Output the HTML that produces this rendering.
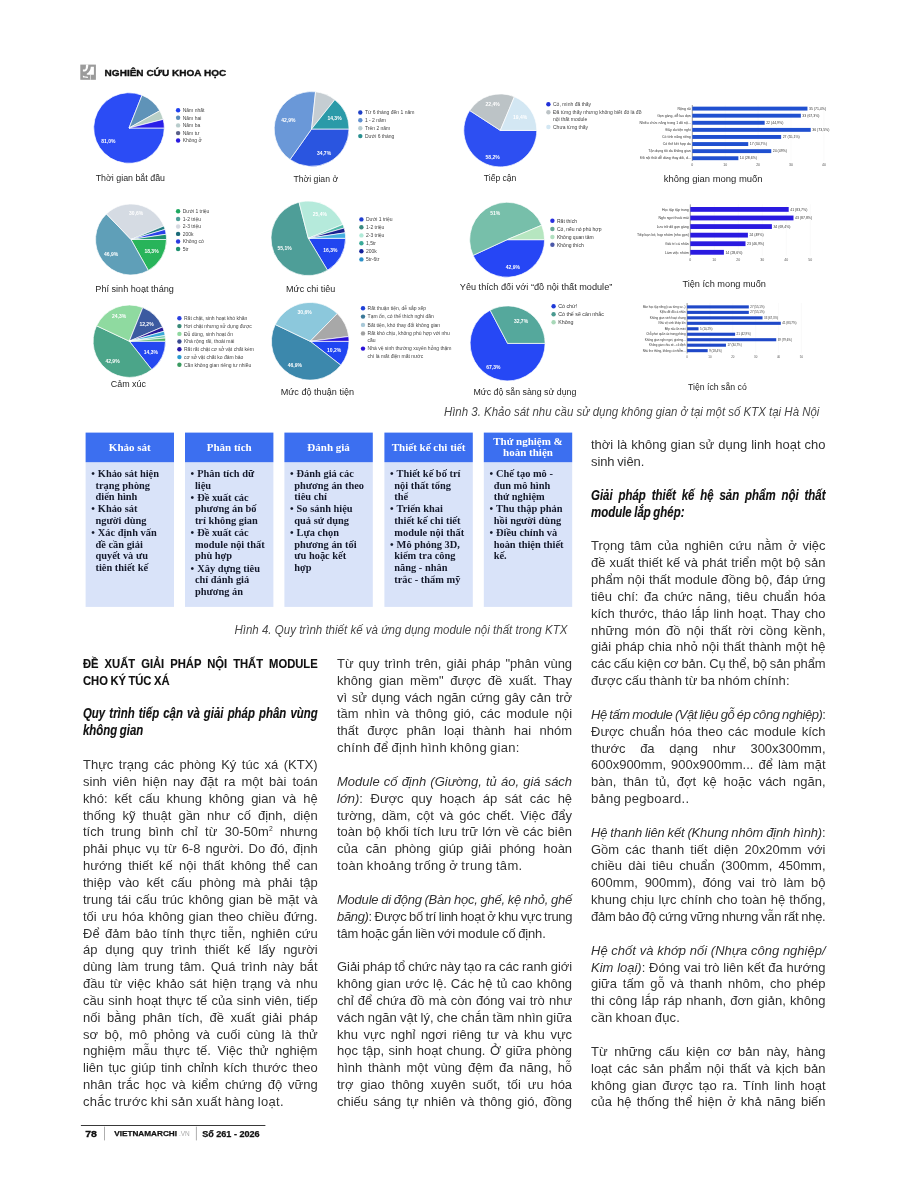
<!DOCTYPE html>
<html lang="vi"><head><meta charset="utf-8"><title>Nghiên cứu khoa học</title><style>
*{margin:0;padding:0;box-sizing:border-box}
html,body{width:918px;height:1200px;overflow:hidden;background:#fff}
#pg{position:relative;width:918px;height:1200px;background:#fff;overflow:hidden}
svg{position:absolute;left:0;top:0}
.ln{position:absolute;white-space:nowrap;font-family:"Liberation Sans",sans-serif;font-size:13.4px;line-height:17px;height:17px;color:#333;letter-spacing:0px;word-spacing:-0.8px;transform-origin:0 0}
.j{text-align:justify;text-align-last:justify}
.ln i{font-style:italic}
.ln sup{font-size:7px;vertical-align:5px;line-height:0}
.hd{font-weight:bold;color:#111;font-size:13.4px;-webkit-text-stroke:0.15px #111}
.hd b{font-weight:bold}
.sb b{font-weight:bold;font-style:italic;color:#111;font-size:14px;-webkit-text-stroke:0.15px #111}
</style></head>
<body><div id="pg">
<svg width="918" height="1200" viewBox="0 0 918 1200"><rect x="80.30" y="64.60" width="15.60" height="15.20" fill="#9b9b9b"/><path d="M 85.90 64.60 L 88.30 64.60 C 88.30 68.20 87.30 71.40 84.80 71.50 L 82.90 71.50 L 82.90 69.60 L 84.70 69.60 C 85.60 69.30 85.90 68.20 85.90 66.60 Z" fill="#fff"/><path d="M 90.80 66.85 L 93.90 66.85 L 93.90 74.70 L 87.50 74.70 C 86.50 74.70 86.30 73.80 87.30 73.30 C 89.30 72.30 90.60 70.10 90.80 66.85 Z" fill="#fff"/><path d="M 82.90 75.60 C 83.90 76.50 85.80 76.70 87.90 76.70 L 87.90 77.90 C 85.30 77.90 83.50 77.90 82.90 77.30 Z" fill="#fff"/><rect x="90.30" y="74.70" width="0.6" height="5.10" fill="#fff"/><text x="104.60" y="76.00" font-size="8.90" fill="#111" text-anchor="start" font-weight="bold" font-style="normal" font-family="'Liberation Sans', sans-serif" textLength="121.6" lengthAdjust="spacingAndGlyphs" stroke="#111" stroke-width="0.35">NGHIÊN CỨU KHOA HỌC</text><path d="M129.00 128.00L164.30 128.00A35.30 35.30 0 1 1 141.99 95.18Z" fill="#2b4cf5" stroke="#fff" stroke-width="0.70" stroke-linejoin="round"/><path d="M129.00 128.00L141.99 95.18A35.30 35.30 0 0 1 159.78 110.72Z" fill="#5f93b8" stroke="#fff" stroke-width="0.70" stroke-linejoin="round"/><path d="M129.00 128.00L159.78 110.72A35.30 35.30 0 0 1 163.24 119.40Z" fill="#b8cfc6" stroke="#fff" stroke-width="0.70" stroke-linejoin="round"/><path d="M129.00 128.00L163.24 119.40A35.30 35.30 0 0 1 164.30 128.00Z" fill="#2a1ee8" stroke="#fff" stroke-width="0.70" stroke-linejoin="round"/><text x="108.40" y="143.30" font-size="5.00" fill="#fff" text-anchor="middle" font-weight="bold" font-style="normal" font-family="'Liberation Sans', sans-serif">81,0%</text><circle cx="178.10" cy="110.20" r="2.20" fill="#2040f0"/><text x="182.70" y="112.00" font-size="5.00" fill="#444" text-anchor="start" font-weight="normal" font-style="normal" font-family="'Liberation Sans', sans-serif">Năm nhất</text><circle cx="178.10" cy="117.80" r="2.20" fill="#5a8cb8"/><text x="182.70" y="119.60" font-size="5.00" fill="#444" text-anchor="start" font-weight="normal" font-style="normal" font-family="'Liberation Sans', sans-serif">Năm hai</text><circle cx="178.10" cy="125.40" r="2.20" fill="#b8cccc"/><text x="182.70" y="127.20" font-size="5.00" fill="#444" text-anchor="start" font-weight="normal" font-style="normal" font-family="'Liberation Sans', sans-serif">Năm ba</text><circle cx="178.10" cy="133.10" r="2.20" fill="#5a6088"/><text x="182.70" y="134.90" font-size="5.00" fill="#444" text-anchor="start" font-weight="normal" font-style="normal" font-family="'Liberation Sans', sans-serif">Năm tư</text><circle cx="178.10" cy="140.50" r="2.20" fill="#2a1ae0"/><text x="182.70" y="142.30" font-size="5.00" fill="#444" text-anchor="start" font-weight="normal" font-style="normal" font-family="'Liberation Sans', sans-serif">Không ở</text><text x="95.70" y="181.20" font-size="8.30" fill="#262626" text-anchor="start" font-weight="normal" font-style="normal" font-family="'Liberation Sans', sans-serif" textLength="69.3" lengthAdjust="spacingAndGlyphs">Thời gian bắt đầu</text><path d="M311.60 129.00L349.00 129.00A37.40 37.40 0 0 1 290.04 159.56Z" fill="#2a55e0" stroke="#fff" stroke-width="0.70" stroke-linejoin="round"/><path d="M311.60 129.00L290.04 159.56A37.40 37.40 0 0 1 315.57 91.81Z" fill="#6a98d8" stroke="#fff" stroke-width="0.70" stroke-linejoin="round"/><path d="M311.60 129.00L315.57 91.81A37.40 37.40 0 0 1 334.83 99.69Z" fill="#c5cdd2" stroke="#fff" stroke-width="0.70" stroke-linejoin="round"/><path d="M311.60 129.00L334.83 99.69A37.40 37.40 0 0 1 349.00 129.00Z" fill="#2a9aa8" stroke="#fff" stroke-width="0.70" stroke-linejoin="round"/><text x="288.30" y="122.00" font-size="5.00" fill="#fff" text-anchor="middle" font-weight="bold" font-style="normal" font-family="'Liberation Sans', sans-serif">42,9%</text><text x="334.50" y="120.30" font-size="5.00" fill="#fff" text-anchor="middle" font-weight="bold" font-style="normal" font-family="'Liberation Sans', sans-serif">14,3%</text><text x="324.00" y="154.70" font-size="5.00" fill="#fff" text-anchor="middle" font-weight="bold" font-style="normal" font-family="'Liberation Sans', sans-serif">34,7%</text><circle cx="360.30" cy="112.50" r="2.20" fill="#1e40c8"/><text x="364.90" y="114.30" font-size="5.00" fill="#444" text-anchor="start" font-weight="normal" font-style="normal" font-family="'Liberation Sans', sans-serif">Từ 6 tháng đến 1 năm</text><circle cx="360.30" cy="120.30" r="2.20" fill="#6090d0"/><text x="364.90" y="122.10" font-size="5.00" fill="#444" text-anchor="start" font-weight="normal" font-style="normal" font-family="'Liberation Sans', sans-serif">1 - 2 năm</text><circle cx="360.30" cy="128.30" r="2.20" fill="#b8ccd0"/><text x="364.90" y="130.10" font-size="5.00" fill="#444" text-anchor="start" font-weight="normal" font-style="normal" font-family="'Liberation Sans', sans-serif">Trên 2 năm</text><circle cx="360.30" cy="136.10" r="2.20" fill="#2a9090"/><text x="364.90" y="137.90" font-size="5.00" fill="#444" text-anchor="start" font-weight="normal" font-style="normal" font-family="'Liberation Sans', sans-serif">Dưới 6 tháng</text><text x="293.50" y="181.80" font-size="8.30" fill="#262626" text-anchor="start" font-weight="normal" font-style="normal" font-family="'Liberation Sans', sans-serif" textLength="44.6" lengthAdjust="spacingAndGlyphs">Thời gian ở</text><path d="M500.30 130.40L536.80 130.40A36.50 36.50 0 1 1 469.69 110.52Z" fill="#2d4ff2" stroke="#fff" stroke-width="0.70" stroke-linejoin="round"/><path d="M500.30 130.40L469.69 110.52A36.50 36.50 0 0 1 514.39 96.73Z" fill="#bcc3c6" stroke="#fff" stroke-width="0.70" stroke-linejoin="round"/><path d="M500.30 130.40L514.39 96.73A36.50 36.50 0 0 1 536.80 130.40Z" fill="#d3e7f3" stroke="#fff" stroke-width="0.70" stroke-linejoin="round"/><text x="492.70" y="106.20" font-size="5.00" fill="#fff" text-anchor="middle" font-weight="bold" font-style="normal" font-family="'Liberation Sans', sans-serif">22,4%</text><text x="520.10" y="118.80" font-size="5.00" fill="#fff" text-anchor="middle" font-weight="bold" font-style="normal" font-family="'Liberation Sans', sans-serif">19,4%</text><text x="492.70" y="158.50" font-size="5.00" fill="#fff" text-anchor="middle" font-weight="bold" font-style="normal" font-family="'Liberation Sans', sans-serif">58,2%</text><circle cx="548.40" cy="104.20" r="2.20" fill="#2030d8"/><text x="553.00" y="106.00" font-size="5.00" fill="#444" text-anchor="start" font-weight="normal" font-style="normal" font-family="'Liberation Sans', sans-serif">Có, mình đã thấy</text><circle cx="548.40" cy="112.30" r="2.20" fill="#bcc3c6"/><text x="553.00" y="114.10" font-size="5.00" fill="#444" text-anchor="start" font-weight="normal" font-style="normal" font-family="'Liberation Sans', sans-serif">Đã từng thấy nhưng không biết đó là đồ</text><text x="553.00" y="120.90" font-size="5.00" fill="#444" text-anchor="start" font-weight="normal" font-style="normal" font-family="'Liberation Sans', sans-serif">nội thất module</text><circle cx="548.40" cy="127.00" r="2.20" fill="#d3e7f3"/><text x="553.00" y="128.80" font-size="5.00" fill="#444" text-anchor="start" font-weight="normal" font-style="normal" font-family="'Liberation Sans', sans-serif">Chưa từng thấy</text><text x="483.80" y="181.30" font-size="8.30" fill="#262626" text-anchor="start" font-weight="normal" font-style="normal" font-family="'Liberation Sans', sans-serif" textLength="32.6" lengthAdjust="spacingAndGlyphs">Tiếp cận</text><path d="M131.00 239.50L166.50 239.50A35.50 35.50 0 0 1 148.32 270.49Z" fill="#28b45a" stroke="#fff" stroke-width="0.70" stroke-linejoin="round"/><path d="M131.00 239.50L148.32 270.49A35.50 35.50 0 0 1 106.43 213.88Z" fill="#5f9fb8" stroke="#fff" stroke-width="0.70" stroke-linejoin="round"/><path d="M131.00 239.50L106.43 213.88A35.50 35.50 0 0 1 163.84 226.03Z" fill="#d5dbe3" stroke="#fff" stroke-width="0.70" stroke-linejoin="round"/><path d="M131.00 239.50L163.84 226.03A35.50 35.50 0 0 1 165.04 229.42Z" fill="#1f7a80" stroke="#fff" stroke-width="0.70" stroke-linejoin="round"/><path d="M131.00 239.50L165.04 229.42A35.50 35.50 0 0 1 166.11 234.25Z" fill="#2a40e8" stroke="#fff" stroke-width="0.70" stroke-linejoin="round"/><path d="M131.00 239.50L166.11 234.25A35.50 35.50 0 0 1 166.50 239.50Z" fill="#1e9070" stroke="#fff" stroke-width="0.70" stroke-linejoin="round"/><text x="136.20" y="215.40" font-size="5.00" fill="#fff" text-anchor="middle" font-weight="bold" font-style="normal" font-family="'Liberation Sans', sans-serif">30,6%</text><text x="111.10" y="255.80" font-size="5.00" fill="#fff" text-anchor="middle" font-weight="bold" font-style="normal" font-family="'Liberation Sans', sans-serif">46,9%</text><text x="151.50" y="253.20" font-size="5.00" fill="#fff" text-anchor="middle" font-weight="bold" font-style="normal" font-family="'Liberation Sans', sans-serif">18,3%</text><circle cx="178.10" cy="211.30" r="2.20" fill="#1ea860"/><text x="182.70" y="213.10" font-size="5.00" fill="#444" text-anchor="start" font-weight="normal" font-style="normal" font-family="'Liberation Sans', sans-serif">Dưới 1 triệu</text><circle cx="178.10" cy="219.00" r="2.20" fill="#4e9e98"/><text x="182.70" y="220.80" font-size="5.00" fill="#444" text-anchor="start" font-weight="normal" font-style="normal" font-family="'Liberation Sans', sans-serif">1-2 triệu</text><circle cx="178.10" cy="226.50" r="2.20" fill="#d5d8e0"/><text x="182.70" y="228.30" font-size="5.00" fill="#444" text-anchor="start" font-weight="normal" font-style="normal" font-family="'Liberation Sans', sans-serif">2-3 triệu</text><circle cx="178.10" cy="233.90" r="2.20" fill="#1a6a78"/><text x="182.70" y="235.70" font-size="5.00" fill="#444" text-anchor="start" font-weight="normal" font-style="normal" font-family="'Liberation Sans', sans-serif">200k</text><circle cx="178.10" cy="241.50" r="2.20" fill="#2a3ae0"/><text x="182.70" y="243.30" font-size="5.00" fill="#444" text-anchor="start" font-weight="normal" font-style="normal" font-family="'Liberation Sans', sans-serif">Không có</text><circle cx="178.10" cy="249.00" r="2.20" fill="#1e9070"/><text x="182.70" y="250.80" font-size="5.00" fill="#444" text-anchor="start" font-weight="normal" font-style="normal" font-family="'Liberation Sans', sans-serif">5tr</text><text x="95.30" y="292.00" font-size="8.30" fill="#262626" text-anchor="start" font-weight="normal" font-style="normal" font-family="'Liberation Sans', sans-serif" textLength="78.6" lengthAdjust="spacingAndGlyphs">Phí sinh hoạt tháng</text><path d="M308.30 238.30L345.60 238.30A37.30 37.30 0 0 1 327.51 270.27Z" fill="#2145f0" stroke="#fff" stroke-width="0.70" stroke-linejoin="round"/><path d="M308.30 238.30L327.51 270.27A37.30 37.30 0 1 1 299.02 202.17Z" fill="#4e9e98" stroke="#fff" stroke-width="0.70" stroke-linejoin="round"/><path d="M308.30 238.30L299.02 202.17A37.30 37.30 0 0 1 342.93 224.45Z" fill="#b5eadb" stroke="#fff" stroke-width="0.70" stroke-linejoin="round"/><path d="M308.30 238.30L342.93 224.45A37.30 37.30 0 0 1 344.16 228.02Z" fill="#50b8a8" stroke="#fff" stroke-width="0.70" stroke-linejoin="round"/><path d="M308.30 238.30L344.16 228.02A37.30 37.30 0 0 1 345.19 232.79Z" fill="#1a2090" stroke="#fff" stroke-width="0.70" stroke-linejoin="round"/><path d="M308.30 238.30L345.19 232.79A37.30 37.30 0 0 1 345.60 238.30Z" fill="#45aee0" stroke="#fff" stroke-width="0.70" stroke-linejoin="round"/><text x="319.90" y="215.90" font-size="5.00" fill="#fff" text-anchor="middle" font-weight="bold" font-style="normal" font-family="'Liberation Sans', sans-serif">25,4%</text><text x="284.60" y="249.50" font-size="5.00" fill="#fff" text-anchor="middle" font-weight="bold" font-style="normal" font-family="'Liberation Sans', sans-serif">55,1%</text><text x="330.30" y="252.10" font-size="5.00" fill="#fff" text-anchor="middle" font-weight="bold" font-style="normal" font-family="'Liberation Sans', sans-serif">16,3%</text><circle cx="361.40" cy="219.40" r="2.20" fill="#1e3ed0"/><text x="366.00" y="221.20" font-size="5.00" fill="#444" text-anchor="start" font-weight="normal" font-style="normal" font-family="'Liberation Sans', sans-serif">Dưới 1 triệu</text><circle cx="361.40" cy="227.30" r="2.20" fill="#3a8a80"/><text x="366.00" y="229.10" font-size="5.00" fill="#444" text-anchor="start" font-weight="normal" font-style="normal" font-family="'Liberation Sans', sans-serif">1-2 triệu</text><circle cx="361.40" cy="235.40" r="2.20" fill="#b0ead8"/><text x="366.00" y="237.20" font-size="5.00" fill="#444" text-anchor="start" font-weight="normal" font-style="normal" font-family="'Liberation Sans', sans-serif">2-3 triệu</text><circle cx="361.40" cy="243.30" r="2.20" fill="#3aaa98"/><text x="366.00" y="245.10" font-size="5.00" fill="#444" text-anchor="start" font-weight="normal" font-style="normal" font-family="'Liberation Sans', sans-serif">1,5tr</text><circle cx="361.40" cy="251.20" r="2.20" fill="#12209a"/><text x="366.00" y="253.00" font-size="5.00" fill="#444" text-anchor="start" font-weight="normal" font-style="normal" font-family="'Liberation Sans', sans-serif">200k</text><circle cx="361.40" cy="259.40" r="2.20" fill="#2a90c8"/><text x="366.00" y="261.20" font-size="5.00" fill="#444" text-anchor="start" font-weight="normal" font-style="normal" font-family="'Liberation Sans', sans-serif">5tr-6tr</text><text x="286.10" y="292.00" font-size="8.30" fill="#262626" text-anchor="start" font-weight="normal" font-style="normal" font-family="'Liberation Sans', sans-serif" textLength="49.1" lengthAdjust="spacingAndGlyphs">Mức chi tiêu</text><path d="M507.10 239.70L544.60 239.70A37.50 37.50 0 0 1 473.06 255.43Z" fill="#2646f5" stroke="#fff" stroke-width="0.70" stroke-linejoin="round"/><path d="M507.10 239.70L473.06 255.43A37.50 37.50 0 1 1 541.70 225.23Z" fill="#77bfaa" stroke="#fff" stroke-width="0.70" stroke-linejoin="round"/><path d="M507.10 239.70L541.70 225.23A37.50 37.50 0 0 1 544.60 239.70Z" fill="#b6e6c0" stroke="#fff" stroke-width="0.70" stroke-linejoin="round"/><text x="495.30" y="214.90" font-size="5.00" fill="#fff" text-anchor="middle" font-weight="bold" font-style="normal" font-family="'Liberation Sans', sans-serif">51%</text><text x="512.80" y="268.90" font-size="5.00" fill="#fff" text-anchor="middle" font-weight="bold" font-style="normal" font-family="'Liberation Sans', sans-serif">42,9%</text><circle cx="552.40" cy="220.70" r="2.20" fill="#2a30e0"/><text x="557.00" y="222.50" font-size="5.00" fill="#333" text-anchor="start" font-weight="normal" font-style="normal" font-family="'Liberation Sans', sans-serif">Rất thích</text><circle cx="552.40" cy="229.00" r="2.20" fill="#6aa898"/><text x="557.00" y="230.80" font-size="5.00" fill="#333" text-anchor="start" font-weight="normal" font-style="normal" font-family="'Liberation Sans', sans-serif">Có, nếu nó phù hợp</text><circle cx="552.40" cy="237.00" r="2.20" fill="#b0e0c0"/><text x="557.00" y="238.80" font-size="5.00" fill="#333" text-anchor="start" font-weight="normal" font-style="normal" font-family="'Liberation Sans', sans-serif">Không quan tâm</text><circle cx="552.40" cy="244.70" r="2.20" fill="#4a58a8"/><text x="557.00" y="246.50" font-size="5.00" fill="#333" text-anchor="start" font-weight="normal" font-style="normal" font-family="'Liberation Sans', sans-serif">Không thích</text><text x="459.80" y="290.20" font-size="8.30" fill="#262626" text-anchor="start" font-weight="normal" font-style="normal" font-family="'Liberation Sans', sans-serif" textLength="152.5" lengthAdjust="spacingAndGlyphs">Yêu thích đối với “đồ nội thất module”</text><path d="M129.30 341.20L165.50 341.20A36.20 36.20 0 0 1 151.74 369.61Z" fill="#2448f0" stroke="#fff" stroke-width="0.70" stroke-linejoin="round"/><path d="M129.30 341.20L151.74 369.61A36.20 36.20 0 0 1 96.55 325.79Z" fill="#4ba589" stroke="#fff" stroke-width="0.70" stroke-linejoin="round"/><path d="M129.30 341.20L96.55 325.79A36.20 36.20 0 0 1 142.80 307.61Z" fill="#8fdaa0" stroke="#fff" stroke-width="0.70" stroke-linejoin="round"/><path d="M129.30 341.20L142.80 307.61A36.20 36.20 0 0 1 162.57 326.94Z" fill="#3c5aa0" stroke="#fff" stroke-width="0.70" stroke-linejoin="round"/><path d="M129.30 341.20L162.57 326.94A36.20 36.20 0 0 1 164.10 331.22Z" fill="#2a1a9a" stroke="#fff" stroke-width="0.70" stroke-linejoin="round"/><path d="M129.30 341.20L164.10 331.22A36.20 36.20 0 0 1 165.05 335.54Z" fill="#38a8d8" stroke="#fff" stroke-width="0.70" stroke-linejoin="round"/><path d="M129.30 341.20L165.05 335.54A36.20 36.20 0 0 1 165.36 338.04Z" fill="#6cc8b0" stroke="#fff" stroke-width="0.70" stroke-linejoin="round"/><path d="M129.30 341.20L165.36 338.04A36.20 36.20 0 0 1 165.50 341.20Z" fill="#4cb060" stroke="#fff" stroke-width="0.70" stroke-linejoin="round"/><text x="119.10" y="318.20" font-size="5.00" fill="#fff" text-anchor="middle" font-weight="bold" font-style="normal" font-family="'Liberation Sans', sans-serif">24,3%</text><text x="146.50" y="326.00" font-size="5.00" fill="#fff" text-anchor="middle" font-weight="bold" font-style="normal" font-family="'Liberation Sans', sans-serif">12,2%</text><text x="150.90" y="353.90" font-size="5.00" fill="#fff" text-anchor="middle" font-weight="bold" font-style="normal" font-family="'Liberation Sans', sans-serif">14,3%</text><text x="112.50" y="363.10" font-size="5.00" fill="#fff" text-anchor="middle" font-weight="bold" font-style="normal" font-family="'Liberation Sans', sans-serif">42,9%</text><circle cx="179.40" cy="318.20" r="2.20" fill="#2a40e0"/><text x="184.00" y="320.00" font-size="5.00" fill="#444" text-anchor="start" font-weight="normal" font-style="normal" font-family="'Liberation Sans', sans-serif">Rất chật, sinh hoạt khó khăn</text><circle cx="179.40" cy="326.10" r="2.20" fill="#3a8a78"/><text x="184.00" y="327.90" font-size="5.00" fill="#444" text-anchor="start" font-weight="normal" font-style="normal" font-family="'Liberation Sans', sans-serif">Hơi chật nhưng sử dụng được</text><circle cx="179.40" cy="333.90" r="2.20" fill="#8fd8a0"/><text x="184.00" y="335.70" font-size="5.00" fill="#444" text-anchor="start" font-weight="normal" font-style="normal" font-family="'Liberation Sans', sans-serif">Đủ dùng, sinh hoạt ổn</text><circle cx="179.40" cy="341.50" r="2.20" fill="#3a4a90"/><text x="184.00" y="343.30" font-size="5.00" fill="#444" text-anchor="start" font-weight="normal" font-style="normal" font-family="'Liberation Sans', sans-serif">Khá rộng rãi, thoải mái</text><circle cx="179.40" cy="349.20" r="2.20" fill="#2a1aa8"/><text x="184.00" y="351.00" font-size="5.00" fill="#444" text-anchor="start" font-weight="normal" font-style="normal" font-family="'Liberation Sans', sans-serif">Rất rất chật cơ sở vật chất kém</text><circle cx="179.40" cy="357.10" r="2.20" fill="#2a9ad0"/><text x="184.00" y="358.90" font-size="5.00" fill="#444" text-anchor="start" font-weight="normal" font-style="normal" font-family="'Liberation Sans', sans-serif">cơ sở vật chất ko đảm bảo</text><circle cx="179.40" cy="364.70" r="2.20" fill="#3a9a60"/><text x="184.00" y="366.50" font-size="5.00" fill="#444" text-anchor="start" font-weight="normal" font-style="normal" font-family="'Liberation Sans', sans-serif">Cần không gian riêng tư nhiều</text><text x="110.80" y="387.00" font-size="8.30" fill="#262626" text-anchor="start" font-weight="normal" font-style="normal" font-family="'Liberation Sans', sans-serif" textLength="35.2" lengthAdjust="spacingAndGlyphs">Cảm xúc</text><path d="M310.20 341.30L349.00 341.30A38.80 38.80 0 0 1 340.82 365.13Z" fill="#2045f2" stroke="#fff" stroke-width="0.70" stroke-linejoin="round"/><path d="M310.20 341.30L340.82 365.13A38.80 38.80 0 0 1 275.21 324.54Z" fill="#3c88ac" stroke="#fff" stroke-width="0.70" stroke-linejoin="round"/><path d="M310.20 341.30L275.21 324.54A38.80 38.80 0 0 1 337.30 313.53Z" fill="#8cc8dc" stroke="#fff" stroke-width="0.70" stroke-linejoin="round"/><path d="M310.20 341.30L337.30 313.53A38.80 38.80 0 0 1 348.70 336.50Z" fill="#a8a8a8" stroke="#fff" stroke-width="0.70" stroke-linejoin="round"/><path d="M310.20 341.30L348.70 336.50A38.80 38.80 0 0 1 349.00 341.30Z" fill="#2a10d8" stroke="#fff" stroke-width="0.70" stroke-linejoin="round"/><text x="304.70" y="313.90" font-size="5.00" fill="#fff" text-anchor="middle" font-weight="bold" font-style="normal" font-family="'Liberation Sans', sans-serif">30,6%</text><text x="334.20" y="351.80" font-size="5.00" fill="#fff" text-anchor="middle" font-weight="bold" font-style="normal" font-family="'Liberation Sans', sans-serif">10,2%</text><text x="294.90" y="367.00" font-size="5.00" fill="#fff" text-anchor="middle" font-weight="bold" font-style="normal" font-family="'Liberation Sans', sans-serif">46,9%</text><circle cx="363.00" cy="308.20" r="2.20" fill="#1e40d8"/><text x="367.60" y="310.00" font-size="5.00" fill="#444" text-anchor="start" font-weight="normal" font-style="normal" font-family="'Liberation Sans', sans-serif">Rất thuận tiện, dễ sắp xếp</text><circle cx="363.00" cy="316.60" r="2.20" fill="#3a7898"/><text x="367.60" y="318.40" font-size="5.00" fill="#444" text-anchor="start" font-weight="normal" font-style="normal" font-family="'Liberation Sans', sans-serif">Tạm ổn, có thể thích nghi dần</text><circle cx="363.00" cy="324.90" r="2.20" fill="#a8c8d8"/><text x="367.60" y="326.70" font-size="5.00" fill="#444" text-anchor="start" font-weight="normal" font-style="normal" font-family="'Liberation Sans', sans-serif">Bất tiện, khó thay đổi không gian</text><circle cx="363.00" cy="333.40" r="2.20" fill="#a0a0a0"/><text x="367.60" y="335.20" font-size="5.00" fill="#444" text-anchor="start" font-weight="normal" font-style="normal" font-family="'Liberation Sans', sans-serif">Rất khó chịu, không phù hợp với nhu</text><text x="367.60" y="342.10" font-size="5.00" fill="#444" text-anchor="start" font-weight="normal" font-style="normal" font-family="'Liberation Sans', sans-serif">cầu</text><circle cx="363.00" cy="348.60" r="2.20" fill="#2a10d8"/><text x="367.60" y="350.40" font-size="5.00" fill="#444" text-anchor="start" font-weight="normal" font-style="normal" font-family="'Liberation Sans', sans-serif">Nhà vệ sinh thường xuyên hỏng thậm</text><text x="367.60" y="357.60" font-size="5.00" fill="#444" text-anchor="start" font-weight="normal" font-style="normal" font-family="'Liberation Sans', sans-serif">chí là mất điện mất nước</text><text x="280.70" y="394.80" font-size="8.30" fill="#262626" text-anchor="start" font-weight="normal" font-style="normal" font-family="'Liberation Sans', sans-serif" textLength="73.4" lengthAdjust="spacingAndGlyphs">Mức độ thuận tiện</text><path d="M507.60 343.40L545.10 343.40A37.50 37.50 0 1 1 490.11 310.23Z" fill="#2648f5" stroke="#fff" stroke-width="0.70" stroke-linejoin="round"/><path d="M507.60 343.40L490.11 310.23A37.50 37.50 0 0 1 545.10 343.40Z" fill="#55a89c" stroke="#fff" stroke-width="0.70" stroke-linejoin="round"/><text x="521.00" y="322.60" font-size="5.00" fill="#fff" text-anchor="middle" font-weight="bold" font-style="normal" font-family="'Liberation Sans', sans-serif">32,7%</text><text x="493.40" y="369.10" font-size="5.00" fill="#fff" text-anchor="middle" font-weight="bold" font-style="normal" font-family="'Liberation Sans', sans-serif">67,3%</text><circle cx="553.60" cy="306.20" r="2.20" fill="#1e3ad8"/><text x="558.20" y="308.11" font-size="5.30" fill="#333" text-anchor="start" font-weight="normal" font-style="normal" font-family="'Liberation Sans', sans-serif">Có chứ!</text><circle cx="553.60" cy="314.20" r="2.20" fill="#4a9a90"/><text x="558.20" y="316.11" font-size="5.30" fill="#333" text-anchor="start" font-weight="normal" font-style="normal" font-family="'Liberation Sans', sans-serif">Có thể sẽ cân nhắc</text><circle cx="553.60" cy="322.20" r="2.20" fill="#a8d8b8"/><text x="558.20" y="324.11" font-size="5.30" fill="#333" text-anchor="start" font-weight="normal" font-style="normal" font-family="'Liberation Sans', sans-serif">Không</text><text x="473.50" y="395.20" font-size="8.30" fill="#262626" text-anchor="start" font-weight="normal" font-style="normal" font-family="'Liberation Sans', sans-serif" textLength="102.9" lengthAdjust="spacingAndGlyphs">Mức độ sẵn sàng sử dụng</text><text x="692.30" y="166.30" font-size="3.50" fill="#555" text-anchor="middle" font-weight="normal" font-style="normal" font-family="'Liberation Sans', sans-serif">0</text><line x1="725.20" y1="105.00" x2="725.20" y2="161.00" stroke="#f3f3f3" stroke-width="0.4"/><text x="725.20" y="166.30" font-size="3.50" fill="#555" text-anchor="middle" font-weight="normal" font-style="normal" font-family="'Liberation Sans', sans-serif">10</text><line x1="758.10" y1="105.00" x2="758.10" y2="161.00" stroke="#f3f3f3" stroke-width="0.4"/><text x="758.10" y="166.30" font-size="3.50" fill="#555" text-anchor="middle" font-weight="normal" font-style="normal" font-family="'Liberation Sans', sans-serif">20</text><line x1="791.00" y1="105.00" x2="791.00" y2="161.00" stroke="#f3f3f3" stroke-width="0.4"/><text x="791.00" y="166.30" font-size="3.50" fill="#555" text-anchor="middle" font-weight="normal" font-style="normal" font-family="'Liberation Sans', sans-serif">30</text><line x1="823.90" y1="105.00" x2="823.90" y2="161.00" stroke="#f3f3f3" stroke-width="0.4"/><text x="823.90" y="166.30" font-size="3.50" fill="#555" text-anchor="middle" font-weight="normal" font-style="normal" font-family="'Liberation Sans', sans-serif">40</text><line x1="692.30" y1="105.00" x2="692.30" y2="161.00" stroke="#333" stroke-width="0.5"/><rect x="692.30" y="106.65" width="115.15" height="3.90" fill="#2050d0"/><text x="690.80" y="109.86" font-size="3.50" fill="#333" text-anchor="end" font-weight="normal" font-style="normal" font-family="'Liberation Sans', sans-serif">Rộng rãi</text><text x="808.95" y="109.86" font-size="3.50" fill="#333" text-anchor="start" font-weight="normal" font-style="normal" font-family="'Liberation Sans', sans-serif">35 (71,4%)</text><rect x="692.30" y="113.74" width="108.57" height="3.90" fill="#2050d0"/><text x="690.80" y="116.95" font-size="3.50" fill="#333" text-anchor="end" font-weight="normal" font-style="normal" font-family="'Liberation Sans', sans-serif">Gọn gàng, dễ lau dọn</text><text x="802.37" y="116.95" font-size="3.50" fill="#333" text-anchor="start" font-weight="normal" font-style="normal" font-family="'Liberation Sans', sans-serif">33 (67,3%)</text><rect x="692.30" y="120.83" width="72.38" height="3.90" fill="#2050d0"/><text x="690.80" y="124.04" font-size="3.50" fill="#333" text-anchor="end" font-weight="normal" font-style="normal" font-family="'Liberation Sans', sans-serif">Nhiều chức năng trong 1 đồ nộ...</text><text x="766.18" y="124.04" font-size="3.50" fill="#333" text-anchor="start" font-weight="normal" font-style="normal" font-family="'Liberation Sans', sans-serif">22 (44,9%)</text><rect x="692.30" y="127.92" width="118.44" height="3.90" fill="#2050d0"/><text x="690.80" y="131.13" font-size="3.50" fill="#333" text-anchor="end" font-weight="normal" font-style="normal" font-family="'Liberation Sans', sans-serif">Đầy đủ tiện nghi</text><text x="812.24" y="131.13" font-size="3.50" fill="#333" text-anchor="start" font-weight="normal" font-style="normal" font-family="'Liberation Sans', sans-serif">36 (73,5%)</text><rect x="692.30" y="135.01" width="88.83" height="3.90" fill="#2050d0"/><text x="690.80" y="138.22" font-size="3.50" fill="#333" text-anchor="end" font-weight="normal" font-style="normal" font-family="'Liberation Sans', sans-serif">Có tính năng riêng</text><text x="782.63" y="138.22" font-size="3.50" fill="#333" text-anchor="start" font-weight="normal" font-style="normal" font-family="'Liberation Sans', sans-serif">27 (55,1%)</text><rect x="692.30" y="142.10" width="55.93" height="3.90" fill="#2050d0"/><text x="690.80" y="145.31" font-size="3.50" fill="#333" text-anchor="end" font-weight="normal" font-style="normal" font-family="'Liberation Sans', sans-serif">Có thể kết hợp đa</text><text x="749.73" y="145.31" font-size="3.50" fill="#333" text-anchor="start" font-weight="normal" font-style="normal" font-family="'Liberation Sans', sans-serif">17 (34,7%)</text><rect x="692.30" y="149.19" width="78.96" height="3.90" fill="#2050d0"/><text x="690.80" y="152.40" font-size="3.50" fill="#333" text-anchor="end" font-weight="normal" font-style="normal" font-family="'Liberation Sans', sans-serif">Tận dụng tối đa không gian</text><text x="772.76" y="152.40" font-size="3.50" fill="#333" text-anchor="start" font-weight="normal" font-style="normal" font-family="'Liberation Sans', sans-serif">24 (49%)</text><rect x="692.30" y="156.28" width="46.06" height="3.90" fill="#2050d0"/><text x="690.80" y="159.49" font-size="3.50" fill="#333" text-anchor="end" font-weight="normal" font-style="normal" font-family="'Liberation Sans', sans-serif">Đồ nội thất dễ dàng thay đổi, d...</text><text x="739.86" y="159.49" font-size="3.50" fill="#333" text-anchor="start" font-weight="normal" font-style="normal" font-family="'Liberation Sans', sans-serif">14 (28,6%)</text><text x="663.80" y="182.20" font-size="8.30" fill="#262626" text-anchor="start" font-weight="normal" font-style="normal" font-family="'Liberation Sans', sans-serif" textLength="98.8" lengthAdjust="spacingAndGlyphs">không gian mong muốn</text><text x="690.30" y="261.00" font-size="3.50" fill="#555" text-anchor="middle" font-weight="normal" font-style="normal" font-family="'Liberation Sans', sans-serif">0</text><line x1="714.30" y1="204.40" x2="714.30" y2="255.80" stroke="#f3f3f3" stroke-width="0.4"/><text x="714.30" y="261.00" font-size="3.50" fill="#555" text-anchor="middle" font-weight="normal" font-style="normal" font-family="'Liberation Sans', sans-serif">10</text><line x1="738.30" y1="204.40" x2="738.30" y2="255.80" stroke="#f3f3f3" stroke-width="0.4"/><text x="738.30" y="261.00" font-size="3.50" fill="#555" text-anchor="middle" font-weight="normal" font-style="normal" font-family="'Liberation Sans', sans-serif">20</text><line x1="762.30" y1="204.40" x2="762.30" y2="255.80" stroke="#f3f3f3" stroke-width="0.4"/><text x="762.30" y="261.00" font-size="3.50" fill="#555" text-anchor="middle" font-weight="normal" font-style="normal" font-family="'Liberation Sans', sans-serif">30</text><line x1="786.30" y1="204.40" x2="786.30" y2="255.80" stroke="#f3f3f3" stroke-width="0.4"/><text x="786.30" y="261.00" font-size="3.50" fill="#555" text-anchor="middle" font-weight="normal" font-style="normal" font-family="'Liberation Sans', sans-serif">40</text><line x1="810.30" y1="204.40" x2="810.30" y2="255.80" stroke="#f3f3f3" stroke-width="0.4"/><text x="810.30" y="261.00" font-size="3.50" fill="#555" text-anchor="middle" font-weight="normal" font-style="normal" font-family="'Liberation Sans', sans-serif">50</text><line x1="690.30" y1="204.40" x2="690.30" y2="255.80" stroke="#333" stroke-width="0.5"/><rect x="690.30" y="207.00" width="98.40" height="4.80" fill="#2a1ae0"/><text x="688.80" y="210.66" font-size="3.50" fill="#333" text-anchor="end" font-weight="normal" font-style="normal" font-family="'Liberation Sans', sans-serif">Học tập tập trung</text><text x="790.20" y="210.66" font-size="3.50" fill="#333" text-anchor="start" font-weight="normal" font-style="normal" font-family="'Liberation Sans', sans-serif">41 (83,7%)</text><rect x="690.30" y="215.58" width="103.20" height="4.80" fill="#2a1ae0"/><text x="688.80" y="219.24" font-size="3.50" fill="#333" text-anchor="end" font-weight="normal" font-style="normal" font-family="'Liberation Sans', sans-serif">Nghỉ ngơi thoải mái</text><text x="795.00" y="219.24" font-size="3.50" fill="#333" text-anchor="start" font-weight="normal" font-style="normal" font-family="'Liberation Sans', sans-serif">43 (87,8%)</text><rect x="690.30" y="224.16" width="81.60" height="4.80" fill="#2a1ae0"/><text x="688.80" y="227.82" font-size="3.50" fill="#333" text-anchor="end" font-weight="normal" font-style="normal" font-family="'Liberation Sans', sans-serif">Lưu trữ đồ gọn gàng</text><text x="773.40" y="227.82" font-size="3.50" fill="#333" text-anchor="start" font-weight="normal" font-style="normal" font-family="'Liberation Sans', sans-serif">34 (69,4%)</text><rect x="690.30" y="232.74" width="57.60" height="4.80" fill="#2a1ae0"/><text x="688.80" y="236.40" font-size="3.50" fill="#333" text-anchor="end" font-weight="normal" font-style="normal" font-family="'Liberation Sans', sans-serif">Tiếp bạn bè, họp nhóm (nhỏ gọn)</text><text x="749.40" y="236.40" font-size="3.50" fill="#333" text-anchor="start" font-weight="normal" font-style="normal" font-family="'Liberation Sans', sans-serif">24 (49%)</text><rect x="690.30" y="241.32" width="55.20" height="4.80" fill="#2a1ae0"/><text x="688.80" y="244.98" font-size="3.50" fill="#333" text-anchor="end" font-weight="normal" font-style="normal" font-family="'Liberation Sans', sans-serif">Giải trí cá nhân</text><text x="747.00" y="244.98" font-size="3.50" fill="#333" text-anchor="start" font-weight="normal" font-style="normal" font-family="'Liberation Sans', sans-serif">23 (46,9%)</text><rect x="690.30" y="249.90" width="33.60" height="4.80" fill="#2a1ae0"/><text x="688.80" y="253.56" font-size="3.50" fill="#333" text-anchor="end" font-weight="normal" font-style="normal" font-family="'Liberation Sans', sans-serif">Làm việc nhóm</text><text x="725.40" y="253.56" font-size="3.50" fill="#333" text-anchor="start" font-weight="normal" font-style="normal" font-family="'Liberation Sans', sans-serif">14 (28,6%)</text><text x="682.40" y="287.30" font-size="8.30" fill="#262626" text-anchor="start" font-weight="normal" font-style="normal" font-family="'Liberation Sans', sans-serif" textLength="83.6" lengthAdjust="spacingAndGlyphs">Tiện ích mong muốn</text><text x="687.10" y="357.90" font-size="2.90" fill="#555" text-anchor="middle" font-weight="normal" font-style="normal" font-family="'Liberation Sans', sans-serif">0</text><line x1="709.96" y1="303.00" x2="709.96" y2="353.50" stroke="#f3f3f3" stroke-width="0.4"/><text x="709.96" y="357.90" font-size="2.90" fill="#555" text-anchor="middle" font-weight="normal" font-style="normal" font-family="'Liberation Sans', sans-serif">10</text><line x1="732.82" y1="303.00" x2="732.82" y2="353.50" stroke="#f3f3f3" stroke-width="0.4"/><text x="732.82" y="357.90" font-size="2.90" fill="#555" text-anchor="middle" font-weight="normal" font-style="normal" font-family="'Liberation Sans', sans-serif">20</text><line x1="755.68" y1="303.00" x2="755.68" y2="353.50" stroke="#f3f3f3" stroke-width="0.4"/><text x="755.68" y="357.90" font-size="2.90" fill="#555" text-anchor="middle" font-weight="normal" font-style="normal" font-family="'Liberation Sans', sans-serif">30</text><line x1="778.54" y1="303.00" x2="778.54" y2="353.50" stroke="#f3f3f3" stroke-width="0.4"/><text x="778.54" y="357.90" font-size="2.90" fill="#555" text-anchor="middle" font-weight="normal" font-style="normal" font-family="'Liberation Sans', sans-serif">40</text><line x1="801.40" y1="303.00" x2="801.40" y2="353.50" stroke="#f3f3f3" stroke-width="0.4"/><text x="801.40" y="357.90" font-size="2.90" fill="#555" text-anchor="middle" font-weight="normal" font-style="normal" font-family="'Liberation Sans', sans-serif">50</text><line x1="687.10" y1="303.00" x2="687.10" y2="353.50" stroke="#333" stroke-width="0.5"/><rect x="687.10" y="305.35" width="61.72" height="3.10" fill="#1f48c8"/><text x="685.60" y="307.94" font-size="2.90" fill="#333" text-anchor="end" font-weight="normal" font-style="normal" font-family="'Liberation Sans', sans-serif">Bàn học tập riêng (của từng sv...)</text><text x="750.32" y="307.94" font-size="2.90" fill="#333" text-anchor="start" font-weight="normal" font-style="normal" font-family="'Liberation Sans', sans-serif">27 (55,1%)</text><rect x="687.10" y="310.82" width="61.72" height="3.10" fill="#1f48c8"/><text x="685.60" y="313.41" font-size="2.90" fill="#333" text-anchor="end" font-weight="normal" font-style="normal" font-family="'Liberation Sans', sans-serif">Kệ/tủ để đồ cá nhân</text><text x="750.32" y="313.41" font-size="2.90" fill="#333" text-anchor="start" font-weight="normal" font-style="normal" font-family="'Liberation Sans', sans-serif">27 (55,1%)</text><rect x="687.10" y="316.29" width="75.44" height="3.10" fill="#1f48c8"/><text x="685.60" y="318.88" font-size="2.90" fill="#333" text-anchor="end" font-weight="normal" font-style="normal" font-family="'Liberation Sans', sans-serif">Không gian sinh hoạt chung</text><text x="764.04" y="318.88" font-size="2.90" fill="#333" text-anchor="start" font-weight="normal" font-style="normal" font-family="'Liberation Sans', sans-serif">33 (67,3%)</text><rect x="687.10" y="321.76" width="93.73" height="3.10" fill="#1f48c8"/><text x="685.60" y="324.35" font-size="2.90" fill="#333" text-anchor="end" font-weight="normal" font-style="normal" font-family="'Liberation Sans', sans-serif">Nhà vệ sinh khép kín</text><text x="782.33" y="324.35" font-size="2.90" fill="#333" text-anchor="start" font-weight="normal" font-style="normal" font-family="'Liberation Sans', sans-serif">41 (83,7%)</text><rect x="687.10" y="327.23" width="11.43" height="3.10" fill="#1f48c8"/><text x="685.60" y="329.82" font-size="2.90" fill="#333" text-anchor="end" font-weight="normal" font-style="normal" font-family="'Liberation Sans', sans-serif">Bếp nấu ăn mini</text><text x="700.03" y="329.82" font-size="2.90" fill="#333" text-anchor="start" font-weight="normal" font-style="normal" font-family="'Liberation Sans', sans-serif">5 (10,2%)</text><rect x="687.10" y="332.70" width="48.01" height="3.10" fill="#1f48c8"/><text x="685.60" y="335.29" font-size="2.90" fill="#333" text-anchor="end" font-weight="normal" font-style="normal" font-family="'Liberation Sans', sans-serif">Chỗ phơi quần áo trong phòng</text><text x="736.61" y="335.29" font-size="2.90" fill="#333" text-anchor="start" font-weight="normal" font-style="normal" font-family="'Liberation Sans', sans-serif">21 (42,9%)</text><rect x="687.10" y="338.17" width="89.15" height="3.10" fill="#1f48c8"/><text x="685.60" y="340.76" font-size="2.90" fill="#333" text-anchor="end" font-weight="normal" font-style="normal" font-family="'Liberation Sans', sans-serif">Không gian nghỉ ngơi, giường...</text><text x="777.75" y="340.76" font-size="2.90" fill="#333" text-anchor="start" font-weight="normal" font-style="normal" font-family="'Liberation Sans', sans-serif">39 (79,6%)</text><rect x="687.10" y="343.64" width="38.86" height="3.10" fill="#1f48c8"/><text x="685.60" y="346.23" font-size="2.90" fill="#333" text-anchor="end" font-weight="normal" font-style="normal" font-family="'Liberation Sans', sans-serif">Không gian chia sẻ - cố định</text><text x="727.46" y="346.23" font-size="2.90" fill="#333" text-anchor="start" font-weight="normal" font-style="normal" font-family="'Liberation Sans', sans-serif">17 (34,7%)</text><rect x="687.10" y="349.11" width="20.57" height="3.10" fill="#1f48c8"/><text x="685.60" y="351.70" font-size="2.90" fill="#333" text-anchor="end" font-weight="normal" font-style="normal" font-family="'Liberation Sans', sans-serif">Nhà thư thông, không có nhiễm...</text><text x="709.17" y="351.70" font-size="2.90" fill="#333" text-anchor="start" font-weight="normal" font-style="normal" font-family="'Liberation Sans', sans-serif">9 (18,4%)</text><text x="688.00" y="390.20" font-size="8.30" fill="#262626" text-anchor="start" font-weight="normal" font-style="normal" font-family="'Liberation Sans', sans-serif" textLength="58.8" lengthAdjust="spacingAndGlyphs">Tiện ích sẵn có</text><text x="443.90" y="415.60" font-size="13.40" fill="#4a4a4a" text-anchor="start" font-weight="normal" font-style="italic" font-family="'Liberation Sans', sans-serif" textLength="375.5" lengthAdjust="spacingAndGlyphs">Hình 3. Khảo sát nhu cầu sử dụng không gian ở tại một số KTX tại Hà Nội</text><text x="234.40" y="633.90" font-size="13.40" fill="#4a4a4a" text-anchor="start" font-weight="normal" font-style="italic" font-family="'Liberation Sans', sans-serif" textLength="333.0" lengthAdjust="spacingAndGlyphs">Hình 4. Quy trình thiết kế và ứng dụng module nội thất trong KTX</text><line x1="80.9" y1="1125.5" x2="265.4" y2="1125.5" stroke="#222" stroke-width="0.9"/><line x1="104.5" y1="1126.7" x2="104.5" y2="1140.4" stroke="#999" stroke-width="0.8"/><line x1="196.4" y1="1126.7" x2="196.4" y2="1140.4" stroke="#999" stroke-width="0.8"/><text x="85.20" y="1136.50" font-size="8.80" fill="#111" text-anchor="start" font-weight="bold" font-style="normal" font-family="'Liberation Sans', sans-serif" textLength="11.8" lengthAdjust="spacingAndGlyphs" stroke="#111" stroke-width="0.3">78</text><text x="114.20" y="1136.30" font-size="7.60" fill="#111" text-anchor="start" font-weight="bold" font-style="normal" font-family="'Liberation Sans', sans-serif" textLength="62.8" lengthAdjust="spacingAndGlyphs" stroke="#111" stroke-width="0.25">VIETNAMARCHI</text><text x="179.00" y="1136.30" font-size="7.60" fill="#aaa" text-anchor="start" font-weight="normal" font-style="normal" font-family="'Liberation Sans', sans-serif" textLength="10.8" lengthAdjust="spacingAndGlyphs">.VN</text><text x="202.20" y="1136.50" font-size="8.40" fill="#111" text-anchor="start" font-weight="bold" font-style="normal" font-family="'Liberation Sans', sans-serif" textLength="57.4" lengthAdjust="spacingAndGlyphs" stroke="#111" stroke-width="0.25">Số 261 - 2026</text><rect x="85.60" y="462.2" width="88.40" height="144.7" fill="#d9e3f9"/><rect x="85.60" y="432.6" width="88.40" height="29.6" fill="#3c6ff0"/><text x="129.80" y="450.70" font-size="11.00" fill="#fff" text-anchor="middle" font-weight="bold" font-style="normal" font-family="'Liberation Serif', serif">Khảo sát</text><text x="91.20" y="477.00" font-size="10.40" fill="#151a2c" text-anchor="start" font-weight="bold" font-style="normal" font-family="'Liberation Serif', serif">•</text><text x="97.80" y="477.00" font-size="10.40" fill="#151a2c" text-anchor="start" font-weight="bold" font-style="normal" font-family="'Liberation Serif', serif">Khảo sát hiện</text><text x="95.50" y="488.55" font-size="10.40" fill="#151a2c" text-anchor="start" font-weight="bold" font-style="normal" font-family="'Liberation Serif', serif">trạng phòng</text><text x="95.50" y="500.10" font-size="10.40" fill="#151a2c" text-anchor="start" font-weight="bold" font-style="normal" font-family="'Liberation Serif', serif">điển hình</text><text x="91.20" y="512.45" font-size="10.40" fill="#151a2c" text-anchor="start" font-weight="bold" font-style="normal" font-family="'Liberation Serif', serif">•</text><text x="97.80" y="512.45" font-size="10.40" fill="#151a2c" text-anchor="start" font-weight="bold" font-style="normal" font-family="'Liberation Serif', serif">Khảo sát</text><text x="95.50" y="524.00" font-size="10.40" fill="#151a2c" text-anchor="start" font-weight="bold" font-style="normal" font-family="'Liberation Serif', serif">người dùng</text><text x="91.20" y="536.35" font-size="10.40" fill="#151a2c" text-anchor="start" font-weight="bold" font-style="normal" font-family="'Liberation Serif', serif">•</text><text x="97.80" y="536.35" font-size="10.40" fill="#151a2c" text-anchor="start" font-weight="bold" font-style="normal" font-family="'Liberation Serif', serif">Xác định vấn</text><text x="95.50" y="547.90" font-size="10.40" fill="#151a2c" text-anchor="start" font-weight="bold" font-style="normal" font-family="'Liberation Serif', serif">đề cần giải</text><text x="95.50" y="559.45" font-size="10.40" fill="#151a2c" text-anchor="start" font-weight="bold" font-style="normal" font-family="'Liberation Serif', serif">quyết và ưu</text><text x="95.50" y="571.00" font-size="10.40" fill="#151a2c" text-anchor="start" font-weight="bold" font-style="normal" font-family="'Liberation Serif', serif">tiên thiết kế</text><rect x="185.00" y="462.2" width="88.40" height="144.7" fill="#d9e3f9"/><rect x="185.00" y="432.6" width="88.40" height="29.6" fill="#3c6ff0"/><text x="229.20" y="450.70" font-size="11.00" fill="#fff" text-anchor="middle" font-weight="bold" font-style="normal" font-family="'Liberation Serif', serif">Phân tích</text><text x="190.60" y="477.00" font-size="10.40" fill="#151a2c" text-anchor="start" font-weight="bold" font-style="normal" font-family="'Liberation Serif', serif">•</text><text x="197.20" y="477.00" font-size="10.40" fill="#151a2c" text-anchor="start" font-weight="bold" font-style="normal" font-family="'Liberation Serif', serif">Phân tích dữ</text><text x="194.90" y="488.55" font-size="10.40" fill="#151a2c" text-anchor="start" font-weight="bold" font-style="normal" font-family="'Liberation Serif', serif">liệu</text><text x="190.60" y="500.90" font-size="10.40" fill="#151a2c" text-anchor="start" font-weight="bold" font-style="normal" font-family="'Liberation Serif', serif">•</text><text x="197.20" y="500.90" font-size="10.40" fill="#151a2c" text-anchor="start" font-weight="bold" font-style="normal" font-family="'Liberation Serif', serif">Đề xuất các</text><text x="194.90" y="512.45" font-size="10.40" fill="#151a2c" text-anchor="start" font-weight="bold" font-style="normal" font-family="'Liberation Serif', serif">phương án bố</text><text x="194.90" y="524.00" font-size="10.40" fill="#151a2c" text-anchor="start" font-weight="bold" font-style="normal" font-family="'Liberation Serif', serif">trí không gian</text><text x="190.60" y="536.35" font-size="10.40" fill="#151a2c" text-anchor="start" font-weight="bold" font-style="normal" font-family="'Liberation Serif', serif">•</text><text x="197.20" y="536.35" font-size="10.40" fill="#151a2c" text-anchor="start" font-weight="bold" font-style="normal" font-family="'Liberation Serif', serif">Đề xuất các</text><text x="194.90" y="547.90" font-size="10.40" fill="#151a2c" text-anchor="start" font-weight="bold" font-style="normal" font-family="'Liberation Serif', serif">module nội thất</text><text x="194.90" y="559.45" font-size="10.40" fill="#151a2c" text-anchor="start" font-weight="bold" font-style="normal" font-family="'Liberation Serif', serif">phù hợp</text><text x="190.60" y="571.80" font-size="10.40" fill="#151a2c" text-anchor="start" font-weight="bold" font-style="normal" font-family="'Liberation Serif', serif">•</text><text x="197.20" y="571.80" font-size="10.40" fill="#151a2c" text-anchor="start" font-weight="bold" font-style="normal" font-family="'Liberation Serif', serif">Xây dựng tiêu</text><text x="194.90" y="583.35" font-size="10.40" fill="#151a2c" text-anchor="start" font-weight="bold" font-style="normal" font-family="'Liberation Serif', serif">chí đánh giá</text><text x="194.90" y="594.90" font-size="10.40" fill="#151a2c" text-anchor="start" font-weight="bold" font-style="normal" font-family="'Liberation Serif', serif">phương án</text><rect x="284.40" y="462.2" width="88.40" height="144.7" fill="#d9e3f9"/><rect x="284.40" y="432.6" width="88.40" height="29.6" fill="#3c6ff0"/><text x="328.60" y="450.70" font-size="11.00" fill="#fff" text-anchor="middle" font-weight="bold" font-style="normal" font-family="'Liberation Serif', serif">Đánh giá</text><text x="290.00" y="477.00" font-size="10.40" fill="#151a2c" text-anchor="start" font-weight="bold" font-style="normal" font-family="'Liberation Serif', serif">•</text><text x="296.60" y="477.00" font-size="10.40" fill="#151a2c" text-anchor="start" font-weight="bold" font-style="normal" font-family="'Liberation Serif', serif">Đánh giá các</text><text x="294.30" y="488.55" font-size="10.40" fill="#151a2c" text-anchor="start" font-weight="bold" font-style="normal" font-family="'Liberation Serif', serif">phương án theo</text><text x="294.30" y="500.10" font-size="10.40" fill="#151a2c" text-anchor="start" font-weight="bold" font-style="normal" font-family="'Liberation Serif', serif">tiêu chí</text><text x="290.00" y="512.45" font-size="10.40" fill="#151a2c" text-anchor="start" font-weight="bold" font-style="normal" font-family="'Liberation Serif', serif">•</text><text x="296.60" y="512.45" font-size="10.40" fill="#151a2c" text-anchor="start" font-weight="bold" font-style="normal" font-family="'Liberation Serif', serif">So sánh hiệu</text><text x="294.30" y="524.00" font-size="10.40" fill="#151a2c" text-anchor="start" font-weight="bold" font-style="normal" font-family="'Liberation Serif', serif">quả sử dụng</text><text x="290.00" y="536.35" font-size="10.40" fill="#151a2c" text-anchor="start" font-weight="bold" font-style="normal" font-family="'Liberation Serif', serif">•</text><text x="296.60" y="536.35" font-size="10.40" fill="#151a2c" text-anchor="start" font-weight="bold" font-style="normal" font-family="'Liberation Serif', serif">Lựa chọn</text><text x="294.30" y="547.90" font-size="10.40" fill="#151a2c" text-anchor="start" font-weight="bold" font-style="normal" font-family="'Liberation Serif', serif">phương án tối</text><text x="294.30" y="559.45" font-size="10.40" fill="#151a2c" text-anchor="start" font-weight="bold" font-style="normal" font-family="'Liberation Serif', serif">ưu hoặc kết</text><text x="294.30" y="571.00" font-size="10.40" fill="#151a2c" text-anchor="start" font-weight="bold" font-style="normal" font-family="'Liberation Serif', serif">hợp</text><rect x="384.40" y="462.2" width="88.40" height="144.7" fill="#d9e3f9"/><rect x="384.40" y="432.6" width="88.40" height="29.6" fill="#3c6ff0"/><text x="428.60" y="450.70" font-size="11.00" fill="#fff" text-anchor="middle" font-weight="bold" font-style="normal" font-family="'Liberation Serif', serif">Thiết kế chi tiết</text><text x="390.00" y="477.00" font-size="10.40" fill="#151a2c" text-anchor="start" font-weight="bold" font-style="normal" font-family="'Liberation Serif', serif">•</text><text x="396.60" y="477.00" font-size="10.40" fill="#151a2c" text-anchor="start" font-weight="bold" font-style="normal" font-family="'Liberation Serif', serif">Thiết kế bố trí</text><text x="394.30" y="488.55" font-size="10.40" fill="#151a2c" text-anchor="start" font-weight="bold" font-style="normal" font-family="'Liberation Serif', serif">nội thất tổng</text><text x="394.30" y="500.10" font-size="10.40" fill="#151a2c" text-anchor="start" font-weight="bold" font-style="normal" font-family="'Liberation Serif', serif">thể</text><text x="390.00" y="512.45" font-size="10.40" fill="#151a2c" text-anchor="start" font-weight="bold" font-style="normal" font-family="'Liberation Serif', serif">•</text><text x="396.60" y="512.45" font-size="10.40" fill="#151a2c" text-anchor="start" font-weight="bold" font-style="normal" font-family="'Liberation Serif', serif">Triển khai</text><text x="394.30" y="524.00" font-size="10.40" fill="#151a2c" text-anchor="start" font-weight="bold" font-style="normal" font-family="'Liberation Serif', serif">thiết kế chi tiết</text><text x="394.30" y="535.55" font-size="10.40" fill="#151a2c" text-anchor="start" font-weight="bold" font-style="normal" font-family="'Liberation Serif', serif">module nội thất</text><text x="390.00" y="547.90" font-size="10.40" fill="#151a2c" text-anchor="start" font-weight="bold" font-style="normal" font-family="'Liberation Serif', serif">•</text><text x="396.60" y="547.90" font-size="10.40" fill="#151a2c" text-anchor="start" font-weight="bold" font-style="normal" font-family="'Liberation Serif', serif">Mô phỏng 3D,</text><text x="394.30" y="559.45" font-size="10.40" fill="#151a2c" text-anchor="start" font-weight="bold" font-style="normal" font-family="'Liberation Serif', serif">kiểm tra công</text><text x="394.30" y="571.00" font-size="10.40" fill="#151a2c" text-anchor="start" font-weight="bold" font-style="normal" font-family="'Liberation Serif', serif">năng - nhân</text><text x="394.30" y="582.55" font-size="10.40" fill="#151a2c" text-anchor="start" font-weight="bold" font-style="normal" font-family="'Liberation Serif', serif">trắc - thẩm mỹ</text><rect x="483.80" y="462.2" width="88.40" height="144.7" fill="#d9e3f9"/><rect x="483.80" y="432.6" width="88.40" height="29.6" fill="#3c6ff0"/><text x="528.00" y="444.70" font-size="11.00" fill="#fff" text-anchor="middle" font-weight="bold" font-style="normal" font-family="'Liberation Serif', serif">Thử nghiệm &</text><text x="528.00" y="455.60" font-size="11.00" fill="#fff" text-anchor="middle" font-weight="bold" font-style="normal" font-family="'Liberation Serif', serif">hoàn thiện</text><text x="489.40" y="477.00" font-size="10.40" fill="#151a2c" text-anchor="start" font-weight="bold" font-style="normal" font-family="'Liberation Serif', serif">•</text><text x="496.00" y="477.00" font-size="10.40" fill="#151a2c" text-anchor="start" font-weight="bold" font-style="normal" font-family="'Liberation Serif', serif">Chế tạo mô -</text><text x="493.70" y="488.55" font-size="10.40" fill="#151a2c" text-anchor="start" font-weight="bold" font-style="normal" font-family="'Liberation Serif', serif">đun mô hình</text><text x="493.70" y="500.10" font-size="10.40" fill="#151a2c" text-anchor="start" font-weight="bold" font-style="normal" font-family="'Liberation Serif', serif">thử nghiệm</text><text x="489.40" y="512.45" font-size="10.40" fill="#151a2c" text-anchor="start" font-weight="bold" font-style="normal" font-family="'Liberation Serif', serif">•</text><text x="496.00" y="512.45" font-size="10.40" fill="#151a2c" text-anchor="start" font-weight="bold" font-style="normal" font-family="'Liberation Serif', serif">Thu thập phản</text><text x="493.70" y="524.00" font-size="10.40" fill="#151a2c" text-anchor="start" font-weight="bold" font-style="normal" font-family="'Liberation Serif', serif">hồi người dùng</text><text x="489.40" y="536.35" font-size="10.40" fill="#151a2c" text-anchor="start" font-weight="bold" font-style="normal" font-family="'Liberation Serif', serif">•</text><text x="496.00" y="536.35" font-size="10.40" fill="#151a2c" text-anchor="start" font-weight="bold" font-style="normal" font-family="'Liberation Serif', serif">Điều chỉnh và</text><text x="493.70" y="547.90" font-size="10.40" fill="#151a2c" text-anchor="start" font-weight="bold" font-style="normal" font-family="'Liberation Serif', serif">hoàn thiện thiết</text><text x="493.70" y="559.45" font-size="10.40" fill="#151a2c" text-anchor="start" font-weight="bold" font-style="normal" font-family="'Liberation Serif', serif">kế.</text></svg>
<div class="ln j hd" id="L0" style="left:82.80px;top:654.90px;width:280.15px;transform:scaleX(0.8378);"><b class="h">ĐỀ XUẤT GIẢI PHÁP NỘI THẤT MODULE</b></div><div class="ln hd" id="L1" style="left:82.80px;top:671.75px;width:103.25px;transform:scaleX(0.8378);"><b class="h">CHO KÝ TÚC XÁ</b></div><div class="ln j sb" id="L3" style="left:82.80px;top:705.45px;width:288.01px;transform:scaleX(0.8149);"><b class="bi">Quy trình tiếp cận và giải pháp phân vùng</b></div><div class="ln sb" id="L4" style="left:82.80px;top:722.30px;width:73.88px;transform:scaleX(0.8149);"><b class="bi">không gian</b></div><div class="ln j" id="L6" style="left:82.80px;top:756.00px;width:241.96px;transform:scaleX(0.9700);">Thực trạng các phòng Ký túc xá (KTX)</div><div class="ln j" id="L7" style="left:82.80px;top:772.85px;width:241.96px;transform:scaleX(0.9700);">sinh viên hiện nay đặt ra một bài toán</div><div class="ln j" id="L8" style="left:82.80px;top:789.70px;width:241.96px;transform:scaleX(0.9700);">khó: kết cấu khung không gian và hệ</div><div class="ln j" id="L9" style="left:82.80px;top:806.55px;width:241.96px;transform:scaleX(0.9700);">thống kỹ thuật gần như cố định, diện</div><div class="ln j" id="L10" style="left:82.80px;top:823.40px;width:241.96px;transform:scaleX(0.9700);">tích trung bình chỉ từ 30-50m<sup>2</sup> nhưng</div><div class="ln j" id="L11" style="left:82.80px;top:840.25px;width:241.96px;transform:scaleX(0.9700);">phải phục vụ từ 6-8 người. Do đó, định</div><div class="ln j" id="L12" style="left:82.80px;top:857.10px;width:241.96px;transform:scaleX(0.9700);">hướng thiết kế nội thất không thể can</div><div class="ln j" id="L13" style="left:82.80px;top:873.95px;width:241.96px;transform:scaleX(0.9700);">thiệp vào kết cấu phòng mà phải tập</div><div class="ln j" id="L14" style="left:82.80px;top:890.80px;width:241.96px;transform:scaleX(0.9700);">trung tái cấu trúc không gian bề mặt và</div><div class="ln j" id="L15" style="left:82.80px;top:907.65px;width:241.96px;transform:scaleX(0.9700);">tối ưu hóa không gian theo chiều đứng.</div><div class="ln j" id="L16" style="left:82.80px;top:924.50px;width:241.96px;transform:scaleX(0.9700);">Để đảm bảo tính thực tiễn, nghiên cứu</div><div class="ln j" id="L17" style="left:82.80px;top:941.35px;width:241.96px;transform:scaleX(0.9700);">áp dụng quy trình thiết kế lấy người</div><div class="ln j" id="L18" style="left:82.80px;top:958.20px;width:241.96px;transform:scaleX(0.9700);">dùng làm trung tâm. Quá trình này bắt</div><div class="ln j" id="L19" style="left:82.80px;top:975.05px;width:241.96px;transform:scaleX(0.9700);">đầu từ việc khảo sát hiện trạng và nhu</div><div class="ln j" id="L20" style="left:82.80px;top:991.90px;width:241.96px;transform:scaleX(0.9700);">cầu sinh hoạt thực tế của sinh viên, tiếp</div><div class="ln j" id="L21" style="left:82.80px;top:1008.75px;width:241.96px;transform:scaleX(0.9700);">nối bằng phân tích, đề xuất giải pháp</div><div class="ln j" id="L22" style="left:82.80px;top:1025.60px;width:241.96px;transform:scaleX(0.9700);">sơ bộ, mô phỏng và cuối cùng là thử</div><div class="ln j" id="L23" style="left:82.80px;top:1042.45px;width:241.96px;transform:scaleX(0.9700);">nghiệm mẫu thực tế. Việc thử nghiệm</div><div class="ln j" id="L24" style="left:82.80px;top:1059.30px;width:241.96px;transform:scaleX(0.9700);">liên tục giúp tinh chỉnh kích thước theo</div><div class="ln j" id="L25" style="left:82.80px;top:1076.15px;width:241.96px;transform:scaleX(0.9700);">nhân trắc học và kiểm chứng độ vững</div><div class="ln" id="L26" style="left:82.80px;top:1093.00px;width:207.73px;letter-spacing:0.277px;transform:scaleX(0.9700);">chắc trước khi sản xuất hàng loạt.</div><div class="ln j" id="M0" style="left:336.50px;top:654.90px;width:242.37px;transform:scaleX(0.9700);">Từ quy trình trên, giải pháp "phân vùng</div><div class="ln j" id="M1" style="left:336.50px;top:671.75px;width:242.37px;transform:scaleX(0.9700);">không gian mềm" được đề xuất. Thay</div><div class="ln j" id="M2" style="left:336.50px;top:688.60px;width:242.37px;transform:scaleX(0.9700);">vì sử dụng vách ngăn cứng gây cản trở</div><div class="ln j" id="M3" style="left:336.50px;top:705.45px;width:242.37px;transform:scaleX(0.9700);">tầm nhìn và thông gió, các module nội</div><div class="ln j" id="M4" style="left:336.50px;top:722.30px;width:242.37px;transform:scaleX(0.9700);">thất được phân loại thành hai nhóm</div><div class="ln" id="M5" style="left:336.50px;top:739.15px;width:189.07px;letter-spacing:0.306px;transform:scaleX(0.9700);">chính để định hình không gian:</div><div class="ln j" id="M7" style="left:336.50px;top:772.85px;width:242.37px;transform:scaleX(0.9700);"><i>Module cố định (Giường, tủ áo, giá sách</i></div><div class="ln j" id="M8" style="left:336.50px;top:789.70px;width:242.37px;transform:scaleX(0.9700);"><i>lớn)</i>: Được quy hoạch áp sát các hệ</div><div class="ln j" id="M9" style="left:336.50px;top:806.55px;width:242.37px;transform:scaleX(0.9700);">tường, dầm, cột và góc chết. Việc đẩy</div><div class="ln j" id="M10" style="left:336.50px;top:823.40px;width:242.37px;transform:scaleX(0.9700);">toàn bộ khối tích lưu trữ lớn về các biên</div><div class="ln j" id="M11" style="left:336.50px;top:840.25px;width:242.37px;transform:scaleX(0.9700);">của căn phòng giúp giải phóng hoàn</div><div class="ln" id="M12" style="left:336.50px;top:857.10px;width:191.96px;letter-spacing:0.361px;transform:scaleX(0.9700);">toàn khoảng trống ở trung tâm.</div><div class="ln j" id="M14" style="left:336.50px;top:890.80px;width:242.37px;letter-spacing:-0.222px;transform:scaleX(0.9700);"><i>Module di động (Bàn học, ghế, kệ nhỏ, ghế</i></div><div class="ln j" id="M15" style="left:336.50px;top:907.65px;width:242.37px;letter-spacing:-0.337px;transform:scaleX(0.9700);"><i>băng)</i>: Được bố trí linh hoạt ở khu vực trung</div><div class="ln" id="M16" style="left:336.50px;top:924.50px;width:216.29px;letter-spacing:-0.147px;transform:scaleX(0.9700);">tâm hoặc gắn liền với module cố định.</div><div class="ln j" id="M18" style="left:336.50px;top:958.20px;width:242.37px;letter-spacing:-0.048px;transform:scaleX(0.9700);">Giải pháp tổ chức này tạo ra các ranh giới</div><div class="ln j" id="M19" style="left:336.50px;top:975.05px;width:242.37px;transform:scaleX(0.9700);">không gian ước lệ. Các hệ tủ cao không</div><div class="ln j" id="M20" style="left:336.50px;top:991.90px;width:242.37px;transform:scaleX(0.9700);">chỉ để chứa đồ mà còn đóng vai trò như</div><div class="ln j" id="M21" style="left:336.50px;top:1008.75px;width:242.37px;transform:scaleX(0.9700);">vách ngăn vật lý, che chắn tầm nhìn giữa</div><div class="ln j" id="M22" style="left:336.50px;top:1025.60px;width:242.37px;transform:scaleX(0.9700);">khu vực nghỉ ngơi riêng tư và khu vực</div><div class="ln j" id="M23" style="left:336.50px;top:1042.45px;width:242.37px;transform:scaleX(0.9700);">học tập, sinh hoạt chung. Ở giữa phòng</div><div class="ln j" id="M24" style="left:336.50px;top:1059.30px;width:242.37px;transform:scaleX(0.9700);">hình thành một vùng đệm đa năng, hỗ</div><div class="ln j" id="M25" style="left:336.50px;top:1076.15px;width:242.37px;transform:scaleX(0.9700);">trợ giao thông xuyên suốt, tối ưu hóa</div><div class="ln j" id="M26" style="left:336.50px;top:1093.00px;width:242.37px;transform:scaleX(0.9700);">chiếu sáng tự nhiên và thông gió, đồng</div><div class="ln j" id="R0" style="left:591.30px;top:436.20px;width:241.75px;transform:scaleX(0.9700);">thời là không gian sử dụng linh hoạt cho</div><div class="ln" id="R1" style="left:591.30px;top:453.05px;width:55.98px;letter-spacing:-0.093px;transform:scaleX(0.9700);">sinh viên.</div><div class="ln j sb" id="R3" style="left:591.30px;top:486.75px;width:286.66px;transform:scaleX(0.8180);"><b class="bi">Giải pháp thiết kế hệ sản phẩm nội thất</b></div><div class="ln sb" id="R4" style="left:591.30px;top:503.60px;width:114.30px;transform:scaleX(0.8180);"><b class="bi">module lắp ghép:</b></div><div class="ln j" id="R6" style="left:591.30px;top:537.30px;width:241.75px;transform:scaleX(0.9700);">Trọng tâm của nghiên cứu nằm ở việc</div><div class="ln j" id="R7" style="left:591.30px;top:554.15px;width:241.75px;transform:scaleX(0.9700);">đề xuất thiết kế và phát triển một bộ sản</div><div class="ln j" id="R8" style="left:591.30px;top:571.00px;width:241.75px;transform:scaleX(0.9700);">phẩm nội thất module đồng bộ, đáp ứng</div><div class="ln j" id="R9" style="left:591.30px;top:587.85px;width:241.75px;transform:scaleX(0.9700);">tiêu chí: đa chức năng, tiêu chuẩn hóa</div><div class="ln j" id="R10" style="left:591.30px;top:604.70px;width:241.75px;transform:scaleX(0.9700);">kích thước, tháo lắp linh hoạt. Thay cho</div><div class="ln j" id="R11" style="left:591.30px;top:621.55px;width:241.75px;transform:scaleX(0.9700);">những món đồ nội thất rời cồng kềnh,</div><div class="ln j" id="R12" style="left:591.30px;top:638.40px;width:241.75px;transform:scaleX(0.9700);">giải pháp chia nhỏ nội thất thành một hệ</div><div class="ln j" id="R13" style="left:591.30px;top:655.25px;width:241.75px;letter-spacing:-0.104px;transform:scaleX(0.9700);">các cấu kiện cơ bản. Cụ thể, bộ sản phẩm</div><div class="ln" id="R14" style="left:591.30px;top:672.10px;width:205.67px;letter-spacing:0.083px;transform:scaleX(0.9700);">được cấu thành từ ba nhóm chính:</div><div class="ln j" id="R16" style="left:591.30px;top:705.80px;width:241.75px;letter-spacing:-0.456px;transform:scaleX(0.9700);"><i>Hệ tấm module (Vật liệu gỗ ép công nghiệp)</i>:</div><div class="ln j" id="R17" style="left:591.30px;top:722.65px;width:241.75px;transform:scaleX(0.9700);">Được chuẩn hóa theo các module kích</div><div class="ln j" id="R18" style="left:591.30px;top:739.50px;width:241.75px;transform:scaleX(0.9700);">thước đa dạng như 300x300mm,</div><div class="ln j" id="R19" style="left:591.30px;top:756.35px;width:241.75px;transform:scaleX(0.9700);">600x900mm, 900x900mm... để làm mặt</div><div class="ln j" id="R20" style="left:591.30px;top:773.20px;width:241.75px;transform:scaleX(0.9700);">bàn, thân tủ, đợt kệ hoặc vách ngăn,</div><div class="ln" id="R21" style="left:591.30px;top:790.05px;width:102.16px;letter-spacing:0.313px;transform:scaleX(0.9700);">bảng pegboard..</div><div class="ln j" id="R23" style="left:591.30px;top:823.75px;width:241.75px;letter-spacing:-0.146px;transform:scaleX(0.9700);"><i>Hệ thanh liên kết (Khung nhôm định hình)</i>:</div><div class="ln j" id="R24" style="left:591.30px;top:840.60px;width:241.75px;transform:scaleX(0.9700);">Gồm các thanh tiết diện 20x20mm với</div><div class="ln j" id="R25" style="left:591.30px;top:857.45px;width:241.75px;transform:scaleX(0.9700);">chiều dài tiêu chuẩn (300mm, 450mm,</div><div class="ln j" id="R26" style="left:591.30px;top:874.30px;width:241.75px;transform:scaleX(0.9700);">600mm, 900mm), đóng vai trò làm bộ</div><div class="ln j" id="R27" style="left:591.30px;top:891.15px;width:241.75px;transform:scaleX(0.9700);">khung chịu lực chính cho toàn hệ thống,</div><div class="ln j" id="R28" style="left:591.30px;top:908.00px;width:241.75px;letter-spacing:-0.252px;transform:scaleX(0.9700);">đảm bảo độ cứng vững nhưng vẫn rất nhẹ.</div><div class="ln j" id="R30" style="left:591.30px;top:941.70px;width:241.75px;transform:scaleX(0.9700);"><i>Hệ chốt và khớp nối (Nhựa công nghiệp/</i></div><div class="ln j" id="R31" style="left:591.30px;top:958.55px;width:241.75px;transform:scaleX(0.9700);"><i>Kim loại)</i>: Đóng vai trò liên kết đa hướng</div><div class="ln j" id="R32" style="left:591.30px;top:975.40px;width:241.75px;transform:scaleX(0.9700);">giữa tấm gỗ và thanh nhôm, cho phép</div><div class="ln j" id="R33" style="left:591.30px;top:992.25px;width:241.75px;transform:scaleX(0.9700);">thi công lắp ráp nhanh, đơn giản, không</div><div class="ln" id="R34" style="left:591.30px;top:1009.10px;width:92.68px;letter-spacing:0.186px;transform:scaleX(0.9700);">cần khoan đục.</div><div class="ln j" id="R36" style="left:591.30px;top:1042.80px;width:241.75px;transform:scaleX(0.9700);">Từ những cấu kiện cơ bản này, hàng</div><div class="ln j" id="R37" style="left:591.30px;top:1059.65px;width:241.75px;transform:scaleX(0.9700);">loạt các sản phẩm nội thất và kịch bản</div><div class="ln j" id="R38" style="left:591.30px;top:1076.50px;width:241.75px;transform:scaleX(0.9700);">không gian được tạo ra. Tính linh hoạt</div><div class="ln j" id="R39" style="left:591.30px;top:1093.35px;width:241.75px;transform:scaleX(0.9700);">của hệ thống thể hiện ở khả năng biến</div>
</div></body></html>
